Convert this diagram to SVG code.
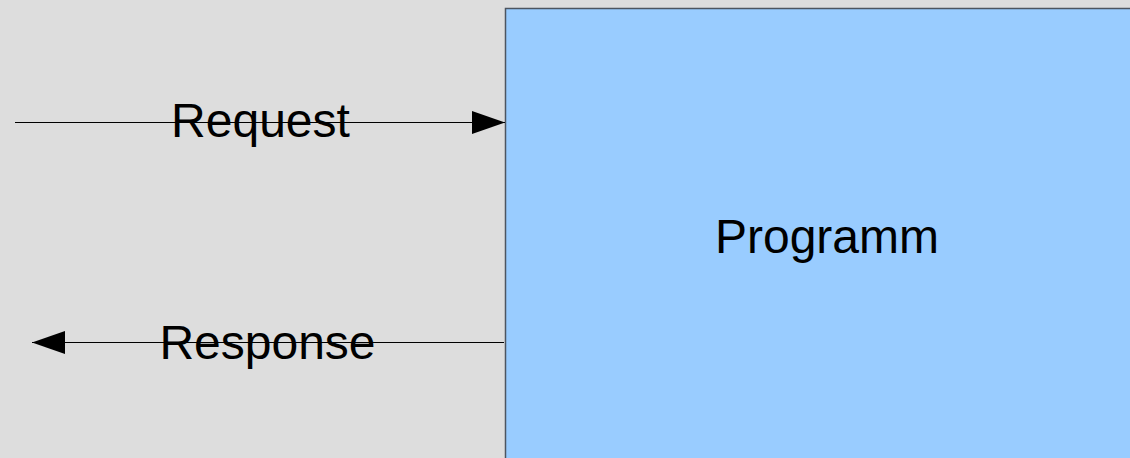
<svg xmlns="http://www.w3.org/2000/svg" width="1130" height="458" viewBox="0 0 1130 458">
<style>
.lbl{font-family:"Liberation Sans",Arial,sans-serif;font-size:48px;fill:#000;text-anchor:middle}
.conn{stroke:#000;stroke-width:1;fill:none}
</style>
<defs>
<marker id="ah" viewBox="0 0 33 23" refX="33" refY="11.5" markerWidth="33" markerHeight="23" markerUnits="userSpaceOnUse" orient="auto">
<path d="M0,0 L33,11.5 L0,23 Z" fill="#000"/>
</marker>
</defs>
<rect x="0" y="0" width="1130" height="458" fill="#dddddd"/>
<g id="programm">
<rect x="505.5" y="8.5" width="640" height="470" fill="#99ccff" stroke="#4d5560" stroke-width="1.5"/>
<text class="lbl" x="827" y="253">Programm</text>
</g>
<g id="connectors">
<line class="conn" x1="15" y1="122.5" x2="505" y2="122.5" marker-end="url(#ah)"/>
<line class="conn" x1="504" y1="342.5" x2="32" y2="342.5" marker-end="url(#ah)"/>
</g>
<g id="labels">
<text class="lbl" x="260.5" y="137">Request</text>
<text class="lbl" x="267.5" y="359">Response</text>
</g>
</svg>
